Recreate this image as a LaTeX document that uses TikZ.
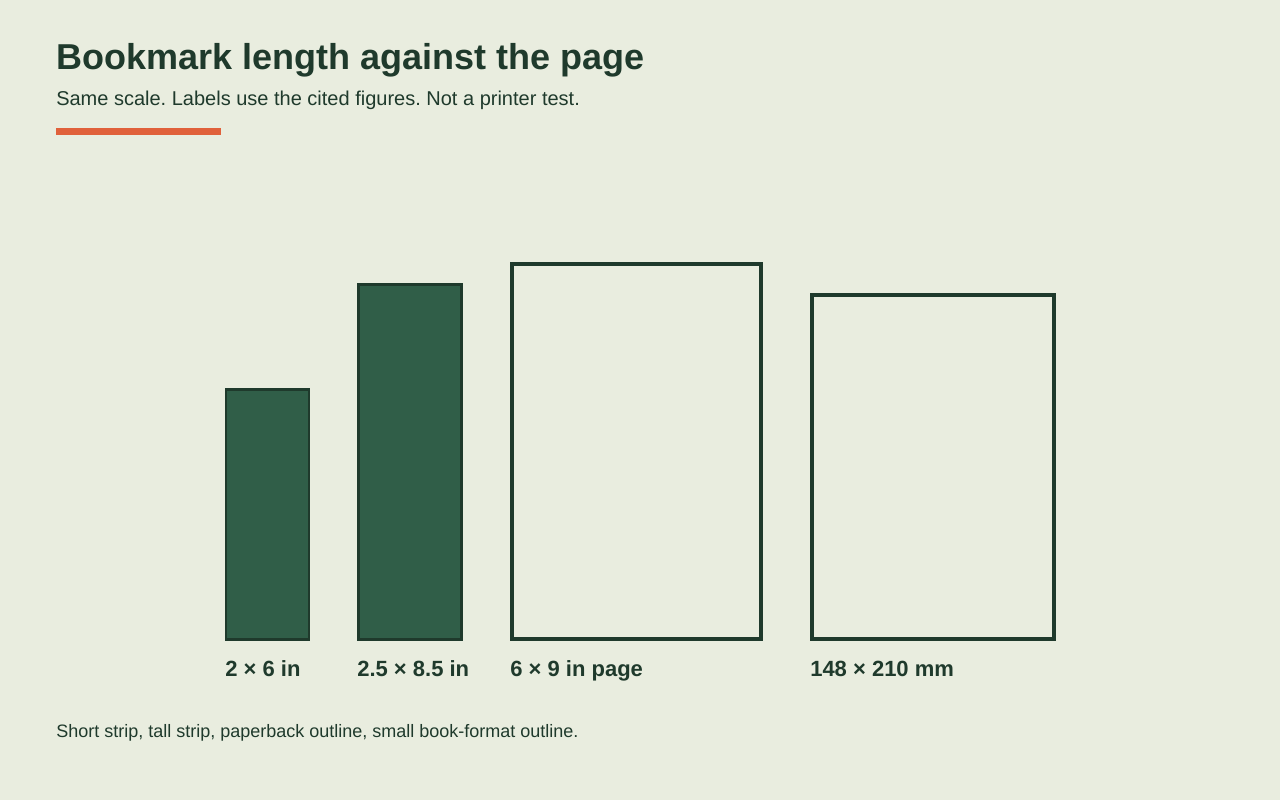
\documentclass[tikz,border=0pt]{standalone}
\usepackage{fontspec}
\setmainfont{Liberation Sans}
\frenchspacing
\definecolor{paper}{HTML}{E9EDDF}
\definecolor{ink}{HTML}{1F3A2C}
\definecolor{leaf}{HTML}{305E48}
\definecolor{rust}{HTML}{E0613B}
\tikzset{
  strip/.style={draw=ink, fill=leaf, line width=1.9pt},
  outline/.style={draw=ink, line width=3pt},
  size/.style={anchor=base west, inner sep=0pt, text=ink, font=\fontsize{16.5}{19}\selectfont\bfseries},
}

\begin{document}
\begin{tikzpicture}[x=0.75pt, y=-0.75pt]
    \fill[paper] (0, 0) rectangle (1280, 800);
    \useasboundingbox (0, 0) rectangle (1280, 800);
    % heading
    \node[anchor=base west, inner sep=0pt, text=ink, font=\fontsize{27}{32}\selectfont\bfseries] (title) at (56, 69.5) {Bookmark length against the page};
    \node[anchor=base west, inner sep=0pt, text=ink, font=\fontsize{15}{18}\selectfont] (sub) at (56, 105) {Same scale. Labels use the cited figures. Not a printer test.};
    \fill[rust] (56, 128) rectangle (221, 134.5);
    % the four sizes, same scale
    \draw[strip] (226.2, 389.5) rectangle (308.8, 639.5);
    \draw[strip] (358.5, 284.5) rectangle (461.5, 639.5);
    \draw[outline] (512, 264) rectangle (761, 638.7);
    \draw[outline] (812, 295) rectangle (1053.7, 638.7);
    \node[size] (a) at (225, 676) {2 × 6 in};
    \node[size] (b) at (357, 676) {2.5 × 8.5 in};
    \node[size] (c) at (510, 676) {6 × 9 in page};
    \node[size] (d) at (810, 676) {148 × 210 mm};
    % footnote
    \node[anchor=base west, inner sep=0pt, text=ink, font=\fontsize{13.5}{16}\selectfont] (note) at (56, 737) {Short strip, tall strip, paperback outline, small book-format outline.};
  \end{tikzpicture}
\end{document}
